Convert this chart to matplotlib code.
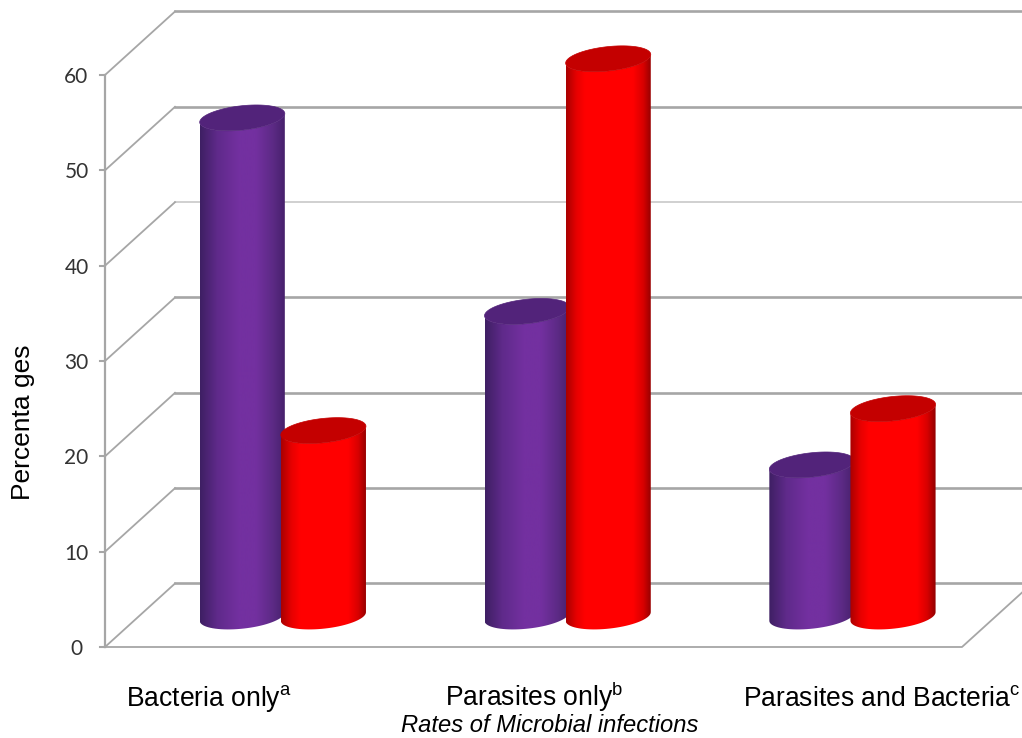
import numpy as np
import matplotlib
matplotlib.use("Agg")
import matplotlib.pyplot as plt
from matplotlib.colors import LinearSegmentedColormap
from matplotlib.patches import Polygon

plt.rcParams["font.family"] = "Liberation Sans"
plt.rcParams["mathtext.fontset"] = "custom"
plt.rcParams["mathtext.rm"] = "Liberation Sans"
plt.rcParams["mathtext.it"] = "Liberation Sans:italic"

categories = ["Bacteria only", "Parasites only", "Parasites and Bacteria"]
markers = ["a", "b", "c"]
purple_values = [52.3, 32.0, 15.9]
red_values = [19.5, 58.5, 21.8]
y_ticks = [0, 10, 20, 30, 40, 50, 60]

W, H = 1022, 738
LEFT, RIGHT, BOTTOM, TOP = 105, 962, 647, 75

# depth of the box in data units
DEPTH_X = 70 / 285.67
DEPTH_Y = 63.5 / 9.533
RADIUS = 0.149
CAP_B = 1.28
CAP_SHEAR = 0.45
BASE_Y = 3.2
GROUP_STEP = 0.997

GRID = "#a6a6a6"
PURPLE = LinearSegmentedColormap.from_list("purple", [
    (0, "#3e1f63"), (0.2, "#5f2a8a"), (0.45, "#7330a0"),
    (0.65, "#7330a0"), (0.85, "#5c2a85"), (1, "#45206a")])
RED = LinearSegmentedColormap.from_list("red", [
    (0, "#a80000"), (0.12, "#e60000"), (0.22, "#ff0000"),
    (0.78, "#ff0000"), (0.9, "#d80000"), (1, "#900000")])


def cap_points(cx, cy, n=80):
    t = np.linspace(0, 2 * np.pi, n)
    x = cx + RADIUS * np.cos(t)
    y = cy + CAP_SHEAR * np.cos(t) + CAP_B * np.sin(t)
    return np.column_stack([x, y])


def draw_cylinder(ax, cx, value, cmap, top_color, zorder):
    """Shaded cylinder standing halfway into the box."""
    y0 = BASE_Y
    y1 = value + y0
    t = np.linspace(np.pi, 2 * np.pi, 40)
    # outline: lower arc of the base, then back along the top edge
    bx = cx + RADIUS * np.cos(t)
    by = y0 + CAP_SHEAR * np.cos(t) + CAP_B * np.sin(t)
    ty = y1 + CAP_SHEAR * np.cos(t[::-1]) + CAP_B * np.sin(t[::-1])
    outline = np.column_stack([np.r_[bx, bx[::-1]], np.r_[by, ty]])
    clip = Polygon(outline, closed=True, transform=ax.transData, fc="none", ec="none")
    ax.add_patch(clip)
    grad = np.linspace(0, 1, 256).reshape(1, -1)
    im = ax.imshow(grad, cmap=cmap, aspect="auto", zorder=zorder,
                   extent=[cx - RADIUS, cx + RADIUS, y0 - 3, y1 + 3])
    # the tallest cylinder rises above the axes box
    im.set_clip_path(clip)
    im.set_clip_box(ax.figure.bbox)
    ax.add_patch(Polygon(cap_points(cx, y1), closed=True, fc=top_color, ec=top_color,
                         lw=0.5, zorder=zorder + 0.1, clip_on=False))


fig = plt.figure(figsize=(W / 100, H / 100), dpi=100)
ax = fig.add_axes([LEFT / W, 1 - BOTTOM / H, (RIGHT - LEFT) / W, (BOTTOM - TOP) / H])
ax.set_xlim(0, 3)
ax.set_ylim(0, 60)
ax.axis("off")

x_end = (W - LEFT) / (RIGHT - LEFT) * 3
for v in y_ticks:
    lw = 1.2 if v == 40 else 1.9
    col = "#c8c8c8" if v == 40 else GRID
    ax.plot([DEPTH_X, x_end], [v + DEPTH_Y, v + DEPTH_Y], color=col, lw=lw,
            clip_on=False, zorder=1)
    ax.plot([0, DEPTH_X], [v, v + DEPTH_Y], color=GRID, lw=1.3, clip_on=False, zorder=1)
    ax.plot([-0.016, 0], [v, v], color=GRID, lw=1.5, clip_on=False, zorder=1)
    ax.text(-0.1, v - 0.2, str(v), ha="center", va="center", fontsize=15,
            family="Lato", color="#333333", clip_on=False)

ax.plot([0, 0], [0, 60], color=GRID, lw=1.6, clip_on=False, zorder=1)
ax.plot([0, 3, 3 + DEPTH_X], [0, 0, DEPTH_Y], color=GRID, lw=1.3, clip_on=False, zorder=1)

for i in range(3):
    centre = i * GROUP_STEP + 0.5 + DEPTH_X / 2
    draw_cylinder(ax, centre - 0.142, purple_values[i], PURPLE, "#52237a", 3 + i)
    draw_cylinder(ax, centre + 0.142, red_values[i], RED, "#c40000", 3.5 + i)

# imshow resets the limits
ax.set_xlim(0, 3)
ax.set_ylim(0, 60)

label_x = [209, 534, 882]
for name, mark, px in zip(categories, markers, label_x):
    fig.text(px / W, 1 - 706 / H, name + r"$^{\mathrm{" + mark + "}}$", ha="center",
             va="baseline", fontsize=19.1, color="black")
fig.text(550 / W, 1 - 732.5 / H, "Rates of Microbial infections", ha="center", va="baseline",
         fontsize=17.1, style="italic", color="black")
fig.text(23 / W, 1 - 422 / H, "Percenta ges", rotation=90, ha="center", va="center",
         fontsize=19, color="black")

fig.savefig("out.png", dpi=100)
